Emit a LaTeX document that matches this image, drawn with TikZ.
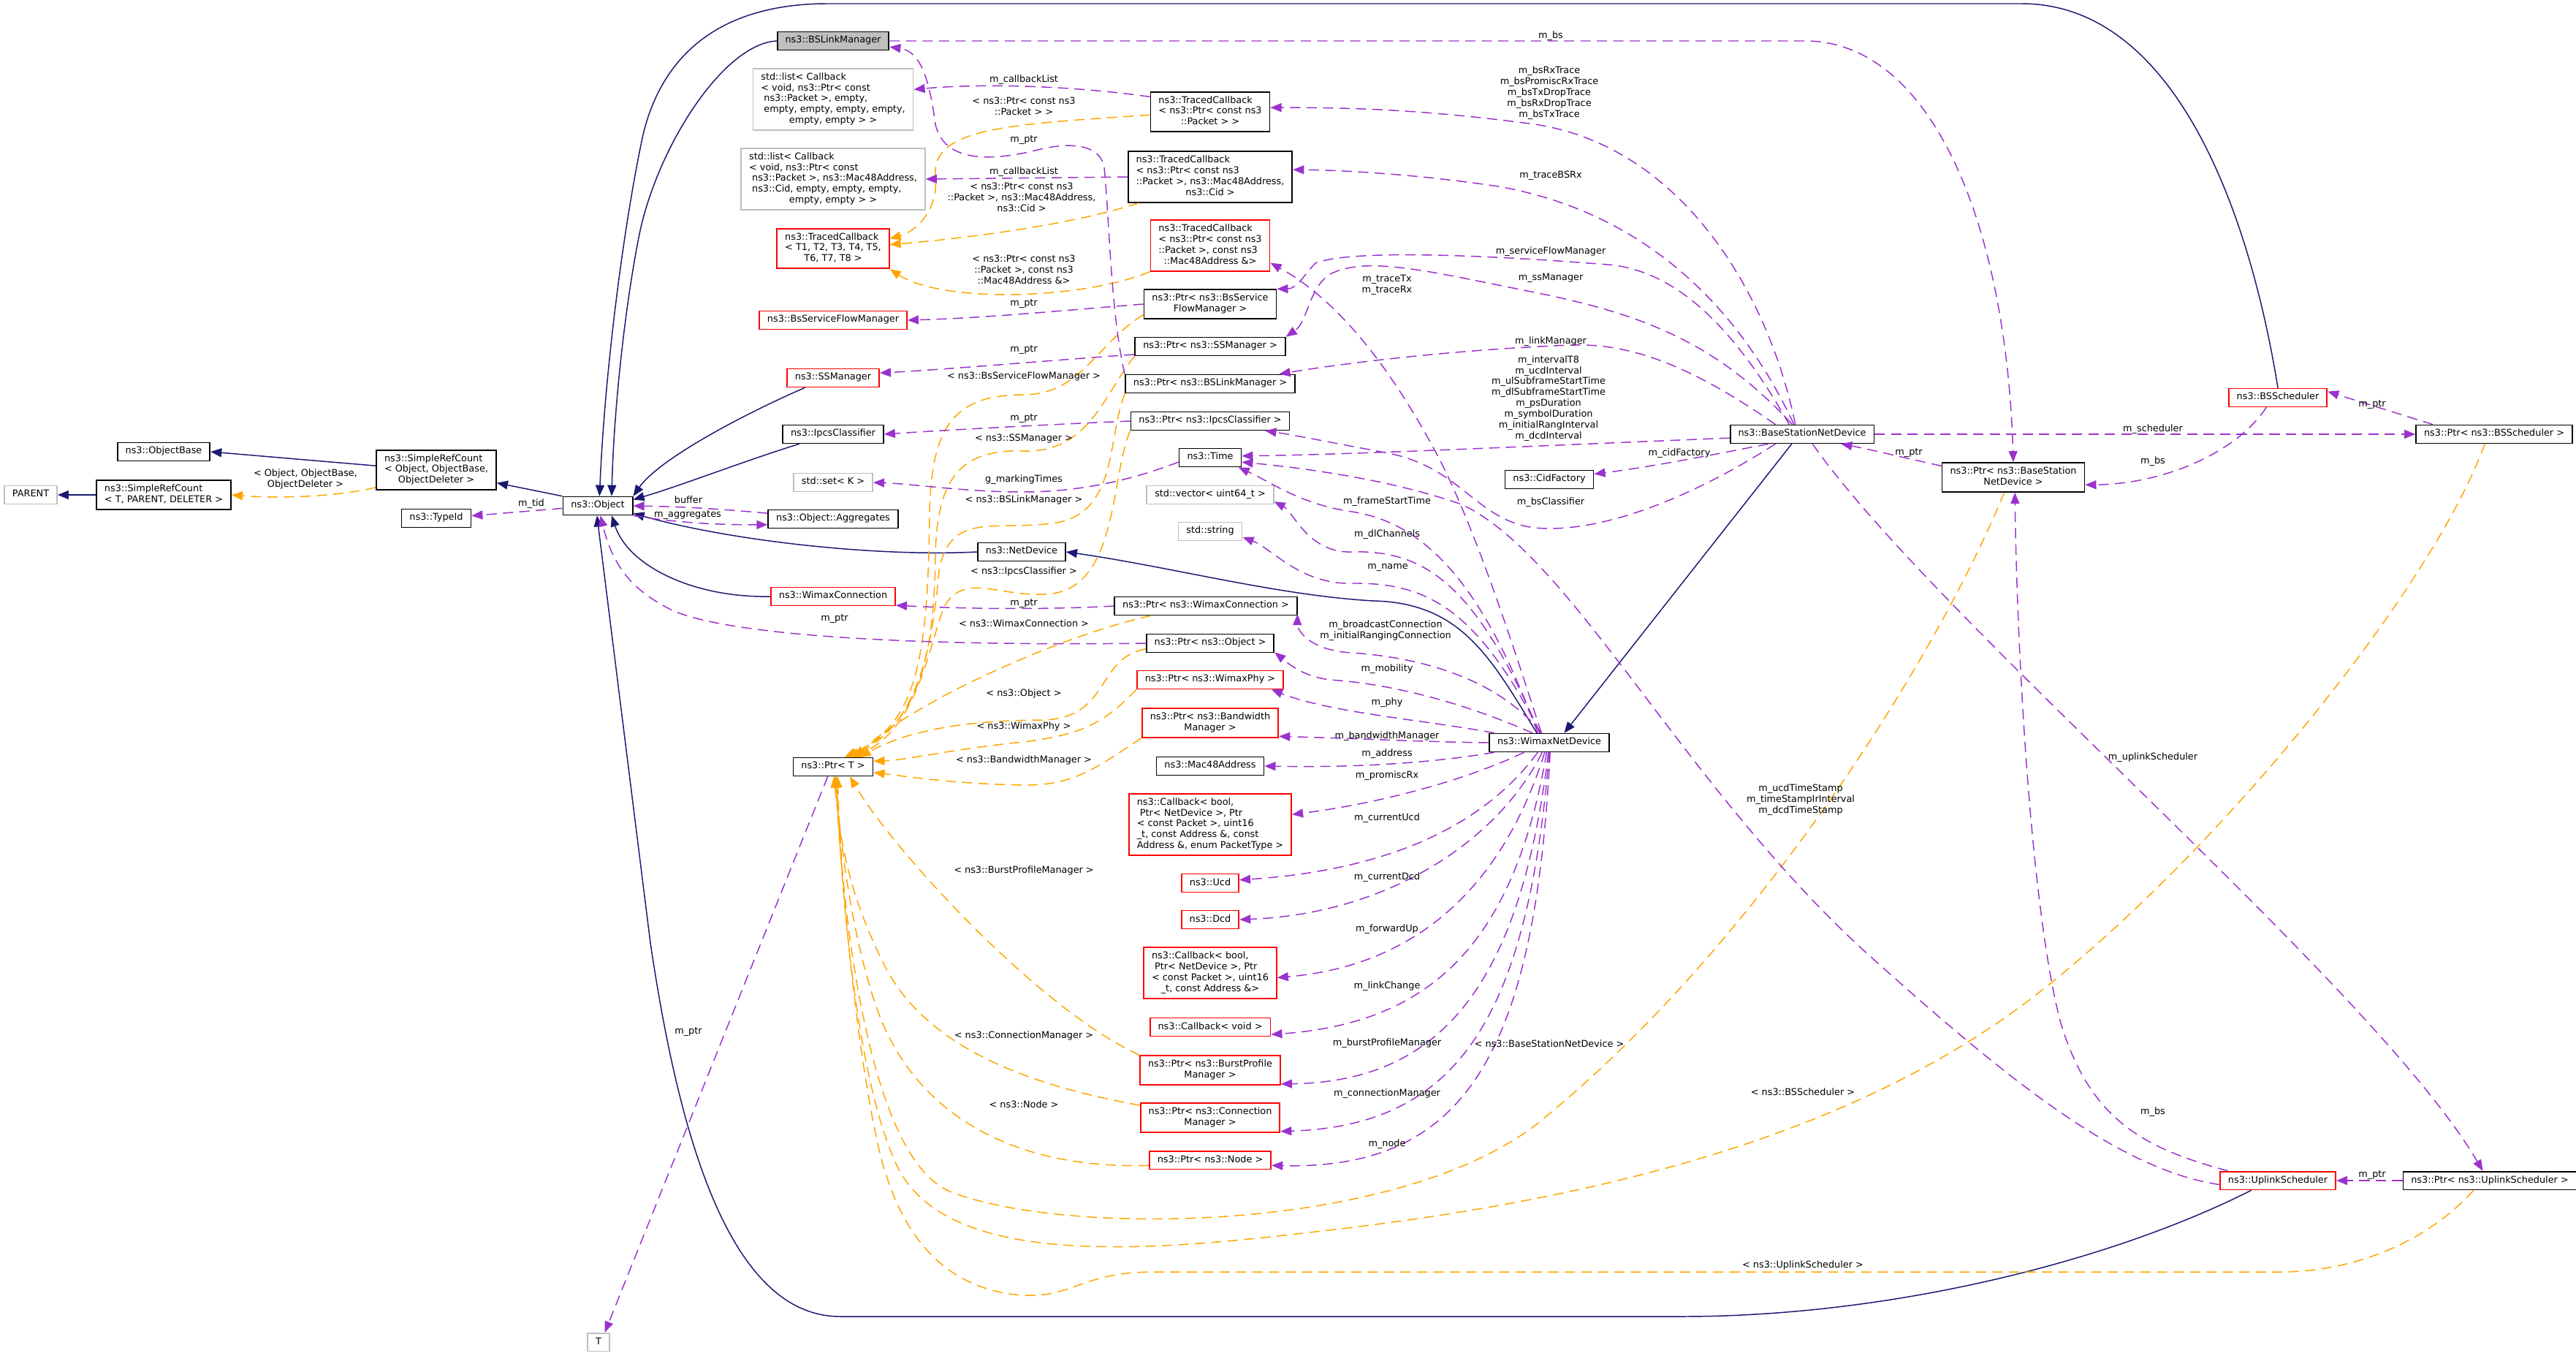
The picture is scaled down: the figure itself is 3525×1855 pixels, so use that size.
\documentclass[tikz,border=0pt]{standalone}
\usepackage{fontspec}
\setmainfont{DejaVu Sans}
\usepackage{tikz}
\usetikzlibrary{arrows.meta}
\definecolor{inhblue}{HTML}{191970}
\definecolor{memberpurple}{HTML}{9A32CD}
\definecolor{tmplorange}{HTML}{FFA500}
\definecolor{truncred}{HTML}{FF0000}
\definecolor{extgray}{HTML}{BFBFBF}
\newcommand{\nodefont}{\fontsize{3.65}{4.25}\selectfont}
\newcommand{\cl}[1]{\begin{tabular}{@{}l@{}}#1\end{tabular}}
\newcommand{\lastc}[1]{\multicolumn{1}{@{}c@{}}{#1}}
\tikzstyle{cls} = [rectangle, draw=black, fill=white, line width=0.5pt,
                   inner xsep=3.1pt, inner ysep=1.4pt, font=\nodefont]
\tikzstyle{cut} = [cls, draw=truncred]
\tikzstyle{ext} = [cls, draw=extgray]
\tikzstyle{lab} = [font=\nodefont, align=center, inner sep=0pt]
\tikzstyle{inh} = [draw=inhblue, line width=0.42pt, -{Triangle[length=4.3pt,width=3.4pt]}]
\tikzstyle{member} = [draw=memberpurple, line width=0.42pt, dash pattern=on 4pt off 2.4pt,
                      -{Triangle[length=4.3pt,width=3.4pt]}]
\tikzstyle{tmpl} = [member, draw=tmplorange]

\begin{document}
\begin{tikzpicture}[x=0.01cm, y=-0.01cm]
    \useasboundingbox (0,0) rectangle (3525,1855);

    % classes
    \node[cls] (objbase) at (224,618) {\cl{ns3::ObjectBase}};
    \node[cls] (srcobj) at (597,643) {\cl{ns3::SimpleRefCount\\< Object, ObjectBase,\\\lastc{ObjectDeleter >}}};
    \node[cls] (srcT) at (224,677) {\cl{ns3::SimpleRefCount\\< T, PARENT, DELETER >}};
    \node[ext] (parent) at (42,677) {\cl{PARENT}};
    \node[cls] (typeid) at (597,709) {\cl{ns3::TypeId}};
    \node[cls] (object) at (818,692) {\cl{ns3::Object}};
    \node[cls, fill=extgray] (bslink) at (1140,56) {\cl{ns3::BSLinkManager}};
    \node[ext] (list1) at (1140,136) {\cl{std::list< Callback\\< void, ns3::Ptr< const\\\ ns3::Packet >, empty,\\\ empty, empty, empty, empty,\\\lastc{empty, empty > >}}};
    \node[ext] (list2) at (1140,245) {\cl{std::list< Callback\\< void, ns3::Ptr< const\\\ ns3::Packet >, ns3::Mac48Address,\\\ ns3::Cid, empty, empty, empty,\\\lastc{empty, empty > >}}};
    \node[cls] (tcb1) at (1656,153) {\cl{ns3::TracedCallback\\< ns3::Ptr< const ns3\\\lastc{::Packet > >}}};
    \node[cls] (tcb2) at (1656,242) {\cl{ns3::TracedCallback\\< ns3::Ptr< const ns3\\::Packet >, ns3::Mac48Address,\\\lastc{ns3::Cid >}}};
    \node[cut] (tcbT) at (1140,340) {\cl{ns3::TracedCallback\\< T1, T2, T3, T4, T5,\\\lastc{T6, T7, T8 >}}};
    \node[cut] (tcb3) at (1656,336) {\cl{ns3::TracedCallback\\< ns3::Ptr< const ns3\\::Packet >, const ns3\\\lastc{::Mac48Address \&>}}};
    \node[cut] (bssfm) at (1140,438) {\cl{ns3::BsServiceFlowManager}};
    \node[cls] (ptrbssfm) at (1656,416) {\cl{ns3::Ptr< ns3::BsService\\\lastc{FlowManager >}}};
    \node[cut] (ssmgr) at (1140,517) {\cl{ns3::SSManager}};
    \node[cls] (ptrssmgr) at (1656,474) {\cl{ns3::Ptr< ns3::SSManager >}};
    \node[cls] (ptrbslink) at (1656,525) {\cl{ns3::Ptr< ns3::BSLinkManager >}};
    \node[cls] (ipcs) at (1140,594) {\cl{ns3::IpcsClassifier}};
    \node[cls] (ptripcs) at (1656,576) {\cl{ns3::Ptr< ns3::IpcsClassifier >}};
    \node[cls] (time) at (1656,626) {\cl{ns3::Time}};
    \node[ext] (stdset) at (1140,660) {\cl{std::set< K >}};
    \node[cls] (aggr) at (1140,710) {\cl{ns3::Object::Aggregates}};
    \node[ext] (stdvec) at (1656,677) {\cl{std::vector< uint64\_t >}};
    \node[ext] (stdstr) at (1656,727) {\cl{std::string}};
    \node[cls] (netdev) at (1398,755) {\cl{ns3::NetDevice}};
    \node[cut] (wxconn) at (1140,816) {\cl{ns3::WimaxConnection}};
    \node[cls] (ptrwxconn) at (1650,829) {\cl{ns3::Ptr< ns3::WimaxConnection >}};
    \node[cls] (ptrobj) at (1656,880) {\cl{ns3::Ptr< ns3::Object >}};
    \node[cut] (ptrphy) at (1656,930) {\cl{ns3::Ptr< ns3::WimaxPhy >}};
    \node[cut] (ptrbw) at (1656,989) {\cl{ns3::Ptr< ns3::Bandwidth\\\lastc{Manager >}}};
    \node[cls] (ptrT) at (1140,1049) {\cl{ns3::Ptr< T >}};
    \node[cls] (mac) at (1656,1048) {\cl{ns3::Mac48Address}};
    \node[cut] (cbprom) at (1656,1128) {\cl{ns3::Callback< bool,\\\ Ptr< NetDevice >, Ptr\\< const Packet >, uint16\\\_t, const Address \&, const\\\lastc{Address \&, enum PacketType >}}};
    \node[cut] (ucd) at (1656,1208) {\cl{ns3::Ucd}};
    \node[cut] (dcd) at (1656,1258) {\cl{ns3::Dcd}};
    \node[cut] (cbfwd) at (1656,1331) {\cl{ns3::Callback< bool,\\\ Ptr< NetDevice >, Ptr\\< const Packet >, uint16\\\lastc{\_t, const Address \&>}}};
    \node[cut] (cbvoid) at (1656,1405) {\cl{ns3::Callback< void >}};
    \node[cut] (ptrburst) at (1656,1464) {\cl{ns3::Ptr< ns3::BurstProfile\\\lastc{Manager >}}};
    \node[cut] (ptrconn) at (1656,1529) {\cl{ns3::Ptr< ns3::Connection\\\lastc{Manager >}}};
    \node[cut] (ptrnode) at (1656,1587) {\cl{ns3::Ptr< ns3::Node >}};
    \node[ext] (tparam) at (819,1836) {\cl{T}};
    \node[cls] (bsnd) at (2466,594) {\cl{ns3::BaseStationNetDevice}};
    \node[cls] (cidf) at (2120,656) {\cl{ns3::CidFactory}};
    \node[cls] (wnd) at (2120,1016) {\cl{ns3::WimaxNetDevice}};
    \node[cls] (ptrbsnd) at (2755,653) {\cl{ns3::Ptr< ns3::BaseStation\\\lastc{NetDevice >}}};
    \node[cut] (bssched) at (3117,544) {\cl{ns3::BSScheduler}};
    \node[cls] (ptrbssched) at (3413,594) {\cl{ns3::Ptr< ns3::BSScheduler >}};
    \node[cut] (ulsched) at (3117,1615) {\cl{ns3::UplinkScheduler}};
    \node[cls] (ptrulsched) at (3407,1615) {\cl{ns3::Ptr< ns3::UplinkScheduler >}};

    % inheritance
    \draw[inh] (srcobj.176) -- (objbase.east);
    \draw[inh] (object.north west) -- (srcobj.-12);
    \draw[inh] (srcT.west) -- (parent.east);
    \draw[inh] (bslink.west) .. controls (990,60) and (900,200) .. (875,320) .. controls (855,420) and (840,560) .. (object.35);
    \draw[inh] (bssched.north) .. controls (3080,300) and (2980,5) .. (2766,5) -- (1133,5) .. controls (980,5) and (905,80) .. (880,184) .. controls (855,300) and (828,500) .. (object.80);
    \draw[inh] (ssmgr.-161) .. controls (1010,570) and (900,630) .. (object.north east);
    \draw[inh] (ipcs.-164) .. controls (1020,630) and (930,665) .. (object.10);
    \draw[inh] (netdev.west) .. controls (1200,762) and (1000,740) .. (object.-12);
    \draw[inh] (wxconn.west) .. controls (950,818) and (860,775) .. (object.-35);
    \draw[inh] (ulsched.-160) .. controls (2900,1720) and (2600,1801) .. (2300,1801) -- (1150,1801) .. controls (1000,1801) and (930,1560) .. (890,1290) -- (object.-95);
    \draw[inh] (wnd.142) .. controls (2040,900) and (2000,825) .. (1880,822) .. controls (1750,815) and (1600,775) .. (netdev.east);
    \draw[inh] (bsnd.-137) -- (wnd.33);

    % template instances
    \draw[tmpl] (srcobj.-164) .. controls (460,680) and (380,682) .. (srcT.east);
    \draw[tmpl] (tcb1.183) .. controls (1380,170) and (1275,175) .. (1280,240) .. controls (1285,290) and (1250,318) .. (tcbT.10);
    \draw[tmpl] (tcb2.-160) .. controls (1460,310) and (1300,328) .. (tcbT.4);
    \draw[tmpl] (tcb3.south west) .. controls (1480,410) and (1290,415) .. (tcbT.south east);
    \draw[tmpl] (ptrbssfm.-171) .. controls (1500,470) and (1480,540) .. (1400,540) .. controls (1300,540) and (1275,590) .. (1272,700) .. controls (1270,900) and (1255,990) .. (ptrT.40);
    \draw[tmpl] (ptrssmgr.south west) .. controls (1510,540) and (1490,620) .. (1400,617) .. controls (1310,614) and (1282,660) .. (1280,760) .. controls (1278,920) and (1250,990) .. (ptrT.36);
    \draw[tmpl] (ptrbslink.south west) .. controls (1515,600) and (1530,705) .. (1440,716) .. controls (1360,726) and (1300,700) .. (1285,780) .. controls (1275,900) and (1250,995) .. (ptrT.32);
    \draw[tmpl] (ptripcs.south west) .. controls (1520,650) and (1530,800) .. (1440,812) .. controls (1370,820) and (1320,780) .. (1292,830) .. controls (1272,880) and (1255,1000) .. (ptrT.28);
    \draw[tmpl] (ptrwxconn.-170) .. controls (1450,870) and (1250,960) .. (ptrT.24);
    \draw[tmpl] (ptrobj.-175) .. controls (1500,900) and (1520,980) .. (1430,985) .. controls (1320,985) and (1240,1000) .. (ptrT.20);
    \draw[tmpl] (ptrphy.south west) .. controls (1510,990) and (1480,1005) .. (1400,1015) .. controls (1300,1025) and (1240,1040) .. (ptrT.8);
    \draw[tmpl] (ptrbw.south west) .. controls (1500,1050) and (1470,1075) .. (1400,1074) .. controls (1300,1072) and (1240,1062) .. (ptrT.-8);
    \draw[tmpl] (ptrburst.north west) .. controls (1420,1380) and (1220,1160) .. (ptrT.-30);
    \draw[tmpl] (ptrconn.170) .. controls (1380,1480) and (1260,1420) .. (1210,1320) .. controls (1160,1220) and (1150,1150) .. (ptrT.-85);
    \draw[tmpl] (ptrnode.-175) .. controls (1380,1600) and (1250,1520) .. (1200,1380) .. controls (1165,1280) and (1150,1150) .. (ptrT.-80);
    \draw[tmpl] (ptrbsnd.-121) .. controls (2650,900) and (2400,1300) .. (2100,1540) .. controls (1900,1690) and (1450,1690) .. (1300,1630) .. controls (1180,1580) and (1150,1200) .. (ptrT.-75);
    \draw[tmpl] (ptrbssched.-134) .. controls (3330,800) and (3050,1150) .. (2800,1350) .. controls (2550,1550) and (2200,1640) .. (1800,1685) .. controls (1550,1715) and (1300,1730) .. (1230,1600) .. controls (1170,1480) and (1150,1200) .. (ptrT.-70);
    \draw[tmpl] (ptrulsched.-149) .. controls (3320,1700) and (3220,1740) .. (3120,1740) -- (1580,1740) .. controls (1480,1740) and (1470,1775) .. (1400,1772) .. controls (1300,1765) and (1230,1700) .. (1200,1560) .. controls (1170,1420) and (1150,1200) .. (ptrT.-65);

    % members
    \draw[member] (object.-176) -- (typeid.4);
    \draw[member] (aggr.175) .. controls (960,694) and (920,693) .. (object.east);
    \draw[member] (object.south east) .. controls (930,716) and (990,718) .. (aggr.-175);
    \draw[member] (tcb1.166) .. controls (1450,115) and (1330,115) .. (list1.7);
    \draw[member] (tcb2.west) -- (list2.east);
    \draw[member] (ptrbslink.north west) .. controls (1520,430) and (1518,300) .. (1511,229) .. controls (1505,195) and (1460,195) .. (1420,205) .. controls (1340,225) and (1290,215) .. (1280,170) .. controls (1272,110) and (1260,70) .. (bslink.-6);
    \draw[member] (ptrbssfm.west) .. controls (1450,425) and (1350,435) .. (bssfm.east);
    \draw[member] (ptrssmgr.-174) .. controls (1450,492) and (1300,505) .. (ssmgr.6);
    \draw[member] (ptripcs.west) .. controls (1450,580) and (1300,588) .. (ipcs.east);
    \draw[member] (time.-172) .. controls (1540,660) and (1470,673) .. (1400,673) .. controls (1320,673) and (1250,662) .. (stdset.east);
    \draw[member] (ptrwxconn.west) .. controls (1420,835) and (1300,832) .. (wxconn.-8);
    \draw[member] (ptrobj.west) .. controls (1250,884) and (1000,870) .. (920,835) .. controls (870,810) and (840,780) .. (object.-75);
    \draw[member] (ptrT.-119) -- (tparam.57);
    \draw[member] (bslink.east) -- (2470,56) .. controls (2640,56) and (2745,300) .. (ptrbsnd.north);
    \draw[member] (bssched.-140) .. controls (3060,620) and (2960,662) .. (ptrbsnd.-6);
    \draw[member] (ulsched.169) .. controls (2930,1570) and (2860,1530) .. (2820,1400) .. controls (2780,1250) and (2760,900) .. (ptrbsnd.-84);
    \draw[member] (ptrbsnd.171) .. controls (2600,625) and (2560,615) .. (bsnd.-14);
    \draw[member] (ptrbssched.171) -- (bssched.7);
    \draw[member] (bsnd.east) -- (ptrbssched.west);
    \draw[member] (ptrulsched.west) -- (ulsched.east);
    \draw[member] (bsnd.-43) .. controls (2650,850) and (3250,1350) .. (ptrulsched.126);
    \draw[member] (bsnd.-164) .. controls (2330,625) and (2250,640) .. (cidf.7);
    \draw[member] (bsnd.-160) .. controls (2300,690) and (2180,730) .. (2100,722) .. controls (2020,712) and (2000,640) .. (1900,620) .. controls (1820,605) and (1770,595) .. (ptripcs.-10);
    \draw[member] (bsnd.-177) .. controls (2100,610) and (1850,622) .. (time.3);
    \draw[member] (bsnd.160) .. controls (2300,490) and (2220,470) .. (2150,472) .. controls (2000,478) and (1850,495) .. (ptrbslink.8);
    \draw[member] (bsnd.143) .. controls (2380,460) and (2300,370) .. (2200,362) .. controls (2050,350) and (1850,340) .. (1800,360) .. controls (1785,375) and (1775,395) .. (ptrbssfm.north east);
    \draw[member] (bsnd.135) .. controls (2350,470) and (2250,430) .. (2100,400) .. controls (1950,370) and (1870,350) .. (1820,375) .. controls (1790,395) and (1790,440) .. (ptrssmgr.north east);
    \draw[member] (bsnd.125) .. controls (2420,400) and (2300,200) .. (2100,170) .. controls (1950,150) and (1850,147) .. (tcb1.4);
    \draw[member] (bsnd.130) .. controls (2380,420) and (2250,290) .. (2050,255) .. controls (1950,240) and (1850,233) .. (tcb2.5);
    \draw[member] (wnd.129) .. controls (2060,850) and (2010,700) .. (1960,610) .. controls (1900,500) and (1830,410) .. (tcb3.-16);
    \draw[member] (ulsched.-176) .. controls (2900,1600) and (2750,1480) .. (2550,1300) .. controls (2300,1070) and (2150,760) .. (2000,690) .. controls (1900,655) and (1780,640) .. (time.-8);
    \draw[member] (wnd.140) .. controls (2030,800) and (1950,715) .. (1850,700) .. controls (1780,690) and (1740,660) .. (time.-19);
    \draw[member] (wnd.135) .. controls (2020,800) and (1950,752) .. (1850,755) .. controls (1790,757) and (1770,700) .. (stdvec.-6);
    \draw[member] (wnd.132) .. controls (2020,830) and (1950,797) .. (1850,798) .. controls (1780,800) and (1740,750) .. (stdstr.-10);
    \draw[member] (wnd.128) .. controls (2050,930) and (1950,900) .. (1850,893) .. controls (1790,890) and (1775,860) .. (ptrwxconn.-5);
    \draw[member] (wnd.150) .. controls (2000,960) and (1900,935) .. (1820,930) .. controls (1780,925) and (1760,905) .. (ptrobj.-8);
    \draw[member] (wnd.170) .. controls (1950,985) and (1820,975) .. (ptrphy.-9);
    \draw[member] (wnd.west) .. controls (1950,1015) and (1850,1010) .. (ptrbw.-11);
    \draw[member] (wnd.-170) .. controls (1950,1045) and (1850,1050) .. (mac.east);
    \draw[member] (wnd.-159) .. controls (2000,1070) and (1880,1100) .. (cbprom.7);
    \draw[member] (wnd.-140) .. controls (2030,1130) and (1900,1190) .. (ucd.6);
    \draw[member] (wnd.-126) .. controls (2050,1150) and (1900,1250) .. (dcd.east);
    \draw[member] (wnd.-115) .. controls (2060,1200) and (1950,1320) .. (cbfwd.-4);
    \draw[member] (wnd.-105) .. controls (2070,1300) and (1950,1400) .. (cbvoid.-7);
    \draw[member] (wnd.-95) .. controls (2080,1350) and (1970,1480) .. (ptrburst.-11);
    \draw[member] (wnd.-90) .. controls (2090,1400) and (1990,1540) .. (ptrconn.-11);
    \draw[member] (wnd.-85) .. controls (2100,1450) and (2000,1600) .. (ptrnode.-5);

    % edge labels
    \node[lab] (l-tid) at (727,689) {m\_tid};
    \node[lab] (l-sro) at (418,655) {< Object, ObjectBase,\\ObjectDeleter >};
    \node[lab] (l-buffer) at (942,684) {buffer};
    \node[lab] (l-aggr) at (941,705) {m\_aggregates};
    \node[lab] (l-cbl1) at (1401,109) {m\_callbackList};
    \node[lab] (l-tcb1) at (1401,145) {< ns3::Ptr< const ns3\\::Packet > >};
    \node[lab] (l-bslptr) at (1401,192) {m\_ptr};
    \node[lab] (l-cbl2) at (1401,235) {m\_callbackList};
    \node[lab] (l-tcb2) at (1398,270) {< ns3::Ptr< const ns3\\::Packet >, ns3::Mac48Address,\\ns3::Cid >};
    \node[lab] (l-tcb3) at (1401,369) {< ns3::Ptr< const ns3\\::Packet >, const ns3\\::Mac48Address \&>};
    \node[lab] (l-sfmptr) at (1401,416) {m\_ptr};
    \node[lab] (l-ssmptr) at (1401,479) {m\_ptr};
    \node[lab] (l-sfmT) at (1401,515) {< ns3::BsServiceFlowManager >};
    \node[lab] (l-ipcsptr) at (1401,573) {m\_ptr};
    \node[lab] (l-ssmT) at (1401,600) {< ns3::SSManager >};
    \node[lab] (l-marking) at (1401,656) {g\_markingTimes};
    \node[lab] (l-bslT) at (1401,684) {< ns3::BSLinkManager >};
    \node[lab] (l-ipcsT) at (1401,782) {< ns3::IpcsClassifier >};
    \node[lab] (l-wcptr) at (1401,825) {m\_ptr};
    \node[lab] (l-objptr) at (1142,847) {m\_ptr};
    \node[lab] (l-wcT) at (1401,853) {< ns3::WimaxConnection >};
    \node[lab] (l-objT) at (1401,949) {< ns3::Object >};
    \node[lab] (l-phyT) at (1401,994) {< ns3::WimaxPhy >};
    \node[lab] (l-bwT) at (1401,1040) {< ns3::BandwidthManager >};
    \node[lab] (l-burstT) at (1401,1191) {< ns3::BurstProfileManager >};
    \node[lab] (l-tptr) at (942,1411) {m\_ptr};
    \node[lab] (l-connT) at (1401,1417) {< ns3::ConnectionManager >};
    \node[lab] (l-nodeT) at (1401,1511) {< ns3::Node >};
    \node[lab] (l-bsndT) at (2120,1428) {< ns3::BaseStationNetDevice >};
    \node[lab] (l-bsschT) at (2467,1494) {< ns3::BSScheduler >};
    \node[lab] (l-ulT) at (2467,1731) {< ns3::UplinkScheduler >};
    \node[lab] (l-bs1) at (2122,49) {m\_bs};
    \node[lab] (l-traces) at (2120,127) {m\_bsRxTrace\\m\_bsPromiscRxTrace\\m\_bsTxDropTrace\\m\_bsRxDropTrace\\m\_bsTxTrace};
    \node[lab] (l-tracebsrx) at (2122,240) {m\_traceBSRx};
    \node[lab] (l-sfm) at (2122,344) {m\_serviceFlowManager};
    \node[lab] (l-ssm) at (2122,380) {m\_ssManager};
    \node[lab] (l-trtx) at (1898,390) {m\_traceTx\\m\_traceRx};
    \node[lab] (l-linkm) at (2122,467) {m\_linkManager};
    \node[lab] (l-intervals) at (2119,545) {m\_intervalT8\\m\_ucdInterval\\m\_ulSubframeStartTime\\m\_dlSubframeStartTime\\m\_psDuration\\m\_symbolDuration\\m\_initialRangInterval\\m\_dcdInterval};
    \node[lab] (l-cidf) at (2298,620) {m\_cidFactory};
    \node[lab] (l-bsndptr) at (2612,620) {m\_ptr};
    \node[lab] (l-sched) at (2946,587) {m\_scheduler};
    \node[lab] (l-bsschptr) at (3246,554) {m\_ptr};
    \node[lab] (l-bs2) at (2946,631) {m\_bs};
    \node[lab] (l-classif) at (2122,687) {m\_bsClassifier};
    \node[lab] (l-frame) at (1898,686) {m\_frameStartTime};
    \node[lab] (l-dlch) at (1898,731) {m\_dlChannels};
    \node[lab] (l-name) at (1899,776) {m\_name};
    \node[lab] (l-bcast) at (1896,863) {m\_broadcastConnection\\m\_initialRangingConnection};
    \node[lab] (l-mob) at (1898,915) {m\_mobility};
    \node[lab] (l-phy) at (1898,961) {m\_phy};
    \node[lab] (l-bw) at (1898,1007) {m\_bandwidthManager};
    \node[lab] (l-addr) at (1898,1031) {m\_address};
    \node[lab] (l-prom) at (1898,1061) {m\_promiscRx};
    \node[lab] (l-ucd) at (1898,1119) {m\_currentUcd};
    \node[lab] (l-dcd) at (1898,1200) {m\_currentDcd};
    \node[lab] (l-fwd) at (1898,1271) {m\_forwardUp};
    \node[lab] (l-link) at (1898,1349) {m\_linkChange};
    \node[lab] (l-burst) at (1898,1427) {m\_burstProfileManager};
    \node[lab] (l-conn) at (1898,1496) {m\_connectionManager};
    \node[lab] (l-node) at (1898,1565) {m\_node};
    \node[lab] (l-ulsch) at (2946,1036) {m\_uplinkScheduler};
    \node[lab] (l-stamps) at (2464,1094) {m\_ucdTimeStamp\\m\_timeStampIrInterval\\m\_dcdTimeStamp};
    \node[lab] (l-bs3) at (2946,1521) {m\_bs};
    \node[lab] (l-ulptr) at (3246,1607) {m\_ptr};
\end{tikzpicture}
\end{document}
